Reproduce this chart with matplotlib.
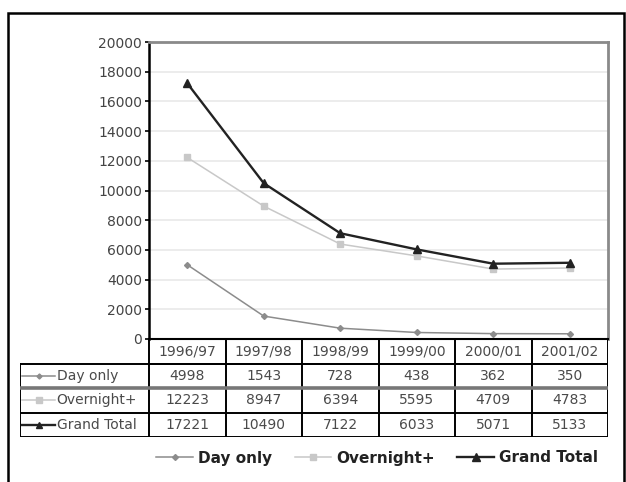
"""
overnight.py — Day only / Overnight+ / Grand Total by year, with data table underneath
"""
import matplotlib
matplotlib.use("Agg")
import matplotlib.pyplot as plt
from matplotlib.patches import Rectangle

years = ["1996/97", "1997/98", "1998/99", "1999/00", "2000/01", "2001/02"]
day_only = [4998, 1543, 728, 438, 362, 350]
overnight = [12223, 8947, 6394, 5595, 4709, 4783]
grand_total = [17221, 10490, 7122, 6033, 5071, 5133]

series_names = ["Day only", "Overnight+", "Grand Total"]
series_values = [day_only, overnight, grand_total]
yticks = list(range(0, 20001, 2000))

# look per series: colour, marker, marker size, line width
styles = [
    ("#8c8c8c", "D", 3.0, 1.1),
    ("#c8c8c8", "s", 5.0, 1.1),
    ("#222222", "^", 5.5, 1.7),
]

W, H = 626, 482
fig = plt.figure(figsize=(W / 100, H / 100), dpi=100)
fig.patch.set_facecolor("white")

def fx(px):
    return px / W

def fy(py):
    return 1 - py / H

# outer frame
fig.patches.append(Rectangle((fx(8), fy(500)), fx(624) - fx(8), fy(13) - fy(500),
                             transform=fig.transFigure, fill=False, lw=1.8, ec="black"))

left, right, top, zero = 149, 608, 42, 339
ax = fig.add_axes([fx(left), fy(zero), fx(right) - fx(left), fy(top) - fy(zero)])
x = list(range(len(years)))
lines = []
for name, vals, (c, m, ms, lw) in zip(series_names, series_values, styles):
    ln, = ax.plot(x, vals, color=c, marker=m, ms=ms, lw=lw, mec=c, mfc=c, label=name, zorder=3)
    lines.append(ln)

ax.set_xlim(-0.5, len(years) - 0.5)
ax.set_ylim(0, 20000)
ax.set_yticks(yticks)
ax.set_yticklabels([str(v) for v in yticks], fontsize=10, color="#444444")
ax.set_xticks([])
ax.grid(axis="y", color="#ebebeb", lw=1.3)
ax.set_axisbelow(True)
ax.tick_params(axis="y", length=3, width=1.2, direction="out", pad=2)
ax.spines["left"].set_color("black")
ax.spines["left"].set_linewidth(1.8)
ax.spines["bottom"].set_color("black")
ax.spines["bottom"].set_linewidth(1.5)
for s in ("top", "right"):
    ax.spines[s].set_color("#8a8a8a")
    ax.spines[s].set_linewidth(2.0)

# data table under the plot
tab_left, tab_bottom = 20, 437
col_w = (right - left) / len(years)
label_w = (left - tab_left) / col_w
tax = fig.add_axes([fx(tab_left), fy(tab_bottom), fx(right) - fx(tab_left), fy(zero) - fy(tab_bottom)])
tax.set_xlim(-0.5 - label_w, len(years) - 0.5)
tax.set_ylim(4, 0)
tax.axis("off")

xl = -0.5 - label_w
xr = len(years) - 0.5
lk = dict(color="black", lw=1.4, solid_capstyle="projecting")
tax.plot([-0.5, xr], [1, 1], **lk)
for i in range(len(years) + 1):
    tax.plot([i - 0.5, i - 0.5], [0, 4], **lk)
tax.plot([xl, xr], [1, 1], **lk)
tax.plot([xl, xr], [4, 4], **lk)
tax.plot([xl, xl], [1, 4], **lk)
tax.plot([xl, xr], [2, 2], color="#777777", lw=2.6)
tax.plot([xl, xr], [3, 3], **lk)

tfs = 10
for i, yr in enumerate(years):
    tax.text(i, 0.5, yr, ha="center", va="center", fontsize=tfs, color="#4a4a4a")

for r, (name, vals, (c, m, ms, lw)) in enumerate(zip(series_names, series_values, styles)):
    yrow = r + 1.5
    gx0 = xl + 0.03
    gx1 = xl + 0.46
    tax.plot([gx0, gx1], [yrow, yrow], color=c, lw=lw)
    tax.plot([(gx0 + gx1) / 2], [yrow], color=c, marker=m, ms=ms * 0.85, mec=c, mfc=c)
    tax.text(gx1 + 0.02, yrow, name, ha="left", va="center", fontsize=tfs, color="#4a4a4a")
    for i, v in enumerate(vals):
        tax.text(i, yrow, str(v), ha="center", va="center", fontsize=tfs, color="#4a4a4a")

leg = fig.legend(handles=lines, labels=series_names, loc="center", ncol=3,
                 bbox_to_anchor=(fx(377), fy(458)), frameon=False,
                 prop={"weight": "bold", "size": 11}, handlelength=2.4,
                 handletextpad=0.3, columnspacing=1.5)
for t in leg.get_texts():
    t.set_color("#222222")

fig.savefig("out.png", dpi=100)
